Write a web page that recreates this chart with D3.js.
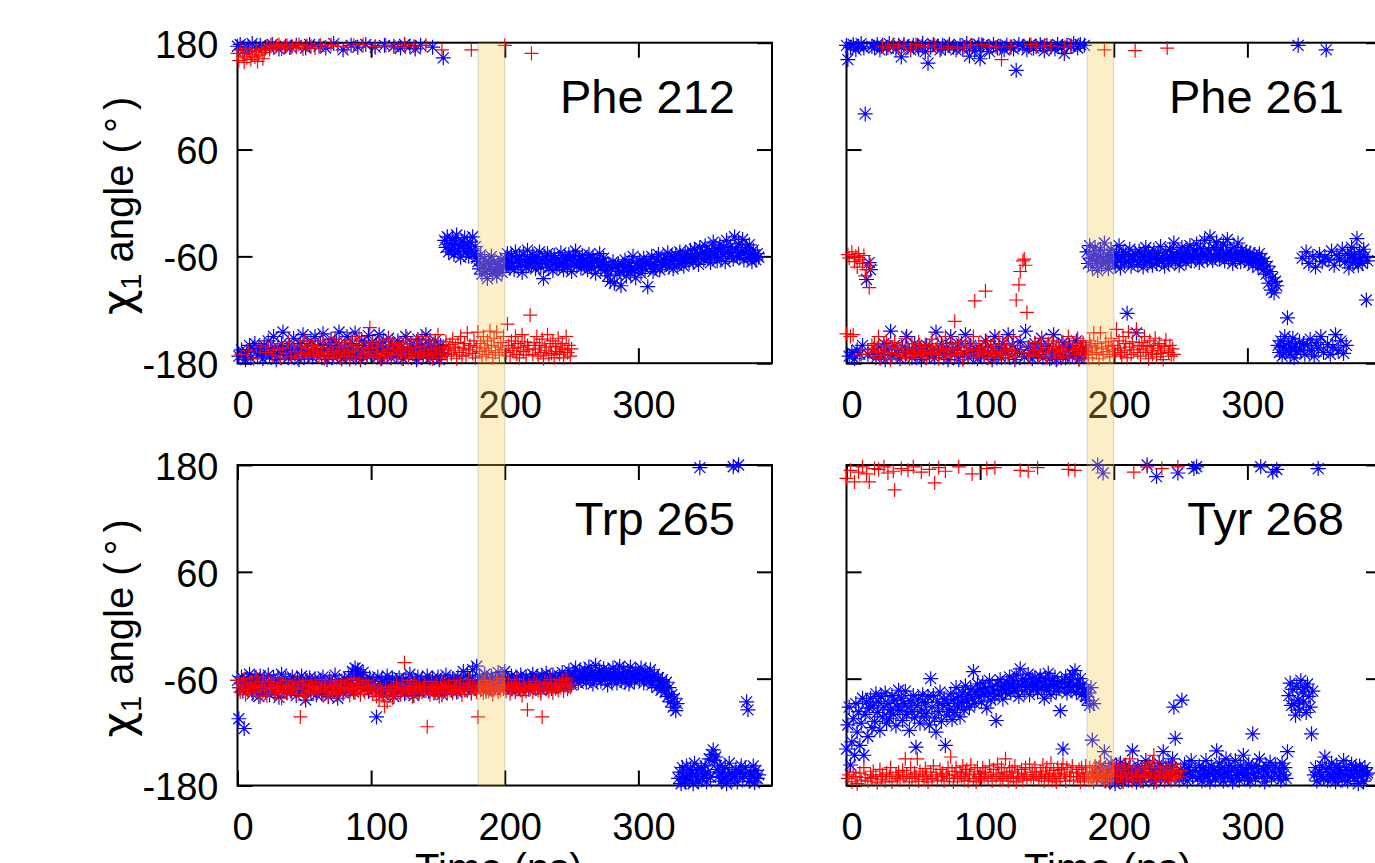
<!DOCTYPE html>
<html>
<meta charset="utf-8">
<!-- Load d3.js -->
<script src="https://d3js.org/d3.v7.min.js"></script>

<style>
    body { margin: 0; background: #fff; }
    text { font-family: "Liberation Sans", Arial, sans-serif; }
</style>

<div id="chart"></div>

<script>

// time between saved frames (ns), every series starts at t = 0
var dt = 1;

// chi1 angles (deg), blue = run 1 (star), red = run 2 (plus)
var phe212Blue = [
    176,-172,178,-165,-170,172,-176,-168,175,-160,-174,179,-166,-158,174,-171,-163,177,-169,-175,
    -160,175,-168,-155,-172,-164,178,-150,-170,-176,-162,173,-167,-158,-145,-171,176,-165,-174,-160,
    175,-168,-152,-170,177,-163,-176,-158,-166,-148,-172,174,-161,-169,178,-155,-173,-164,-150,-170,
    -166,176,-159,-171,-147,-165,174,-176,-160,-168,-153,-172,179,-163,-157,-170,-145,-167,-175,172,
    -162,-170,-150,-166,-174,177,-158,-168,-146,-171,175,-164,-176,-155,-169,-160,178,-172,-149,-165,
    -170,-157,-167,175,-161,-173,-148,-166,-175,-156,177,-163,-170,-152,-168,-174,-159,176,-165,-171,
    -155,-168,174,-162,-175,178,-150,-166,-171,176,-158,-169,-164,173,-176,-153,-167,177,-160,-172,
    -165,-148,-170,-158,-174,-162,175,-167,-155,-171,-164,-176,-160,-168,163,-42,-50,-38,-55,-46,
    -52,-40,-58,-45,-36,-54,-48,-61,-43,-51,-39,-56,-47,-60,-44,-53,-38,-57,-49,-62,
    -66,-74,-58,-80,-70,-63,-77,-85,-68,-72,-60,-79,-66,-75,-82,-69,-73,-64,-78,-71,
    -62,-70,-57,-66,-73,-59,-68,-75,-55,-64,-71,-60,-67,-78,-58,-65,-72,-53,-69,-63,
    -70,-58,-66,-74,-61,-68,-55,-72,-64,-85,-60,-69,-57,-73,-65,-62,-76,-59,-67,-71,
    -63,-70,-56,-68,-75,-61,-66,-72,-58,-64,-77,-60,-69,-54,-71,-65,-62,-73,-59,-67,
    -70,-63,-75,-58,-68,-72,-61,-66,-79,-64,-70,-57,-73,-67,-62,-76,-69,-82,-71,-88,
    -74,-66,-90,-72,-80,-69,-77,-93,-70,-75,-64,-82,-71,-67,-78,-73,-60,-76,-84,-68,
    -72,-65,-79,-70,-62,-74,-68,-94,-66,-71,-60,-77,-69,-73,-63,-58,-75,-67,-70,-64,
    -61,-69,-56,-72,-65,-60,-74,-63,-58,-70,-66,-55,-68,-62,-71,-57,-64,-59,-67,-53,
    -60,-66,-52,-63,-57,-69,-50,-61,-55,-64,-48,-58,-62,-53,-67,-56,-44,-60,-51,-65,
    -54,-47,-62,-58,-50,-66,-42,-55,-60,-49,-57,-63,-38,-52,-59,-46,-61,-55,-41,-64,
    -56,-50,-62,-47,-58,-66,-53,-60,-64,-57,-61];
var phe212Red = [
    168,160,172,-170,165,158,174,163,-166,170,161,167,-175,164,171,159,166,-162,173,162,
    169,-168,175,-160,172,177,-171,174,-165,176,-158,178,-174,173,-163,175,-169,177,-156,174,
    -172,176,-160,-167,175,-175,178,-162,-170,173,-155,-168,177,-164,-173,176,-159,-170,174,-166,
    -161,-172,177,-168,-155,-175,175,-164,-170,-158,178,-167,-173,-152,-169,176,-162,-174,-157,-166,
    -171,-160,175,-168,-176,-154,-165,177,-172,-159,-167,-150,-174,-163,178,-169,-156,-171,-164,-140,
    -167,-158,-173,176,-162,-170,-155,-175,-166,-160,-172,177,-168,-153,-164,-174,-159,-170,175,-163,
    -171,-157,-166,-175,-161,178,-169,-152,-173,-164,-158,-170,176,-167,-155,-174,-162,-168,-150,-172,
    -165,177,-160,-171,-154,-168,-175,-158,-163,-170,-148,-166,-174,172,-161,-169,-156,-172,-164,-159,
    -170,-153,-166,-162,-175,-157,-168,-150,-172,-163,-158,-171,-146,-165,-160,172,-169,-155,-174,-162,
    -145,-167,-158,-172,-150,-163,-170,-155,-166,-144,-160,-174,-152,-168,-145,-162,-171,-157,-165,-150,
    177,-168,-136,-160,-172,-155,-166,-163,-150,-170,-158,-174,-162,-148,-167,-156,-171,-160,-165,-126,
    168,-170,-157,-164,-150,-172,-160,-168,-153,-175,-162,-166,-148,-171,-158,-169,-155,-174,-161,-167,
    -152,-170,-163,-158,-174,-165,-150,-168,-160,-172,-164];

var phe261Blue = [
    177,161,-172,175,-168,178,-175,172,-165,176,-170,179,-160,174,100,-86,-170,-67,-75,176,
    -168,175,-174,178,-162,172,-170,177,-158,-176,174,-165,179,-144,-171,176,-160,173,-168,177,
    -175,164,-162,178,-170,-150,175,-166,172,-174,177,-158,-169,176,173,-163,-176,179,-167,170,
    -160,157,-172,175,-165,178,-174,-145,176,-168,172,-158,177,-171,174,-163,-176,178,-150,-166,
    175,-170,172,-162,-176,177,-158,174,-168,-148,179,-173,165,-160,176,-169,171,-164,-175,178,
    162,-166,177,-172,-155,175,-168,170,-161,-176,178,-150,-170,174,-163,176,-174,-158,172,-167,
    177,-148,-171,175,-160,173,-176,149,-165,178,-156,-169,176,-173,-144,172,-162,177,-168,-175,
    174,-158,176,-170,-164,178,-152,-174,171,-166,177,-161,-175,175,-169,-148,173,-176,178,-163,
    -171,175,-157,168,-174,177,-166,-160,176,-172,179,-168,-155,174,-175,178,-164,-170,177,-162,
    -55,-68,-48,-62,-72,-58,-50,-65,-76,-60,-53,-70,-63,-45,-67,-58,-74,-61,-52,-66,
    -59,-70,-56,-64,-48,-73,-61,-55,-67,-58,-124,-66,-52,-71,-60,-63,-57,-146,-69,-54,
    -65,-58,-72,-61,-50,-67,-56,-64,-60,-70,-53,-62,-68,-57,-63,-49,-66,-59,-71,-55,
    -61,-68,-52,-64,-58,-45,-66,-60,-55,-70,-62,-50,-63,-57,-67,-53,-61,-48,-65,-58,
    -54,-62,-46,-59,-67,-51,-63,-56,-42,-60,-64,-53,-38,-58,-65,-50,-61,-44,-57,-63,
    -52,-60,-47,-65,-56,-41,-62,-54,-59,-68,-50,-63,-57,-45,-61,-66,-53,-58,-64,-55,
    -60,-67,-56,-63,-70,-58,-65,-61,-72,-57,-68,-62,-75,-66,-80,-71,-90,-77,-98,-84,
    -101,-88,-93,-160,-168,-155,-172,-162,-150,-166,-129,-158,-170,-163,-152,-174,-161,-167,177,-156,
    -165,-62,-158,-170,-55,-160,-68,-153,-166,-60,-172,-72,-157,-163,-58,-150,-66,-168,-61,172,
    -159,-64,-170,-54,-162,-70,-148,-59,-166,-63,-155,-52,-169,-66,-160,-57,-73,-61,-50,-67,
    -58,-64,-40,-70,-55,-62,-68,-52,-60,-109,-65];
var phe261Red = [
    -147,-58,-62,-150,-55,-148,-66,-60,-72,-57,-64,-170,-68,-59,-82,-75,-165,-95,-70,-160,
    -168,-158,-172,-163,-150,-175,-166,176,-160,-171,-155,174,-168,-176,-162,178,-157,-170,-164,175,
    -173,-160,-167,177,-152,-170,-163,-175,174,-158,-168,-165,178,-172,-156,-162,176,-170,-166,-159,
    -174,175,-161,-168,-153,-170,177,-164,-158,-175,-166,173,-160,-171,-150,-167,176,-163,-172,-157,
    -165,-133,-170,174,-158,-168,-162,-176,175,-155,-166,-171,-160,177,-164,-150,-110,-169,-173,-158,
    -166,178,-162,-170,-99,-155,-174,176,-163,-168,-159,-172,175,-165,-152,-170,161,-167,-160,-174,
    -158,-171,-164,176,-166,-150,-173,-109,-160,-92,-77,-168,-65,-63,-70,-123,-172,-162,178,-166,
    -170,-157,175,-165,-172,-160,-152,-168,177,-163,-174,-158,-169,176,-155,-166,-171,-161,-175,-164,
    -168,-156,-172,175,-160,-166,-150,-174,177,-163,-158,-170,-165,-152,-176,-161,-168,-157,-171,-163,
    -166,-174,-155,-160,-170,-146,-162,-168,-158,-175,-146,-164,-170,172,-156,-167,-161,-173,-152,-165,
    -160,-170,-142,-163,-155,-168,-172,-150,-166,-158,-174,-145,-162,-170,-156,-165,171,-142,-168,-160,
    -172,-157,-164,-150,-168,-161,-175,-155,-166,-170,-160,-152,-173,-163,-158,-169,-166,-176,-161,-154,
    174,-168,-160,-172,-164,-170];

var trp265Blue = [
    -62,-105,-70,-58,-74,-116,-66,-60,-72,-55,-68,-77,-63,-59,-71,-65,-80,-57,-69,-74,
    -61,-73,-66,-56,-78,-64,-70,-59,-75,-67,-62,-81,-68,-55,-72,-65,-60,-76,-70,-63,
    -74,-58,-69,-66,-79,-61,-71,-64,-57,-73,-67,-84,-62,-70,-59,-75,-65,-72,-60,-78,
    -66,-70,-62,-77,-58,-73,-68,-64,-80,-61,-71,-67,-74,-56,-69,-82,-63,-72,-65,-76,
    -60,-70,-66,-58,-73,-64,-52,-75,-48,-55,-50,-62,-56,-68,-53,-71,-60,-65,-74,-59,
    -67,-72,-63,-70,-103,-58,-75,-66,-61,-78,-69,-64,-57,-73,-65,-71,-60,-80,-68,-62,
    -74,-59,-70,-66,-63,-77,-60,-72,-68,-55,-71,-64,-79,-62,-69,-58,-75,-66,-61,-73,
    -67,-70,-57,-74,-63,-68,-60,-76,-65,-71,-58,-69,-62,-78,-64,-72,-56,-70,-66,-61,
    -73,-60,-68,-65,-75,-58,-70,-62,-66,-52,-72,-64,-56,-69,-61,-74,-50,-67,-63,-46,
    -65,-58,-71,-62,-68,-55,-74,-60,-66,-70,-57,-64,-72,-61,-67,-53,-69,-63,-59,-71,
    -52,-66,-60,-70,-63,-57,-68,-62,-74,-59,-65,-71,-56,-67,-61,-69,-58,-64,-72,-60,
    -66,-55,-70,-62,-58,-68,-64,-73,-57,-61,-67,-54,-69,-63,-59,-71,-56,-65,-60,-68,
    -62,-57,-66,-53,-70,-60,-64,-58,-51,-63,-67,-55,-61,-48,-59,-65,-52,-62,-57,-60,
    -50,-64,-56,-47,-60,-53,-66,-58,-45,-62,-55,-51,-63,-57,-49,-61,-54,-67,-52,-58,
    -62,-48,-57,-53,-65,-59,-46,-61,-55,-50,-64,-58,-52,-66,-47,-60,-56,-63,-51,-57,
    -54,-61,-48,-58,-65,-52,-60,-56,-63,-50,-67,-58,-55,-62,-70,-59,-66,-73,-61,-68,
    -75,-64,-80,-70,-86,-78,-92,-82,-96,-88,-172,-165,-178,-160,-170,-176,-158,-168,-174,-162,
    -166,-178,-155,-170,-163,-175,177,-160,-172,-168,-158,-176,-165,-150,-171,-145,-140,-152,-148,-162,
    -170,-158,-175,-165,-172,-160,-178,-168,-155,-174,-166,178,-170,-162,-176,180,-165,-158,-172,-168,
    -160,-86,-95,-175,-166,-170,-158,-177,-163,-172,-168];
var trp265Red = [
    -62,-70,-75,-66,-72,-60,-78,-68,-73,-65,-71,-64,-76,-69,-58,-74,-67,-80,-70,-63,
    -72,-66,-79,-61,-74,-68,-70,-64,-77,-71,-59,-75,-67,-82,-69,-73,-62,-76,-70,-66,
    -74,-68,-71,-63,-78,-70,-65,-103,-72,-67,-80,-62,-75,-69,-73,-66,-71,-77,-64,-70,
    -76,-68,-72,-61,-79,-70,-66,-74,-81,-69,-63,-75,-71,-67,-78,-65,-73,-70,-62,-77,
    -68,-74,-64,-71,-79,-66,-72,-60,-76,-69,-73,-65,-78,-70,-67,-75,-62,-71,-68,-74,
    -70,-77,-66,-73,-80,-68,-84,-72,-75,-78,-91,-70,-86,-74,-79,-69,-82,-72,-76,-67,
    -73,-70,-78,-65,-72,-42,-76,-68,-74,-62,-71,-80,-66,-73,-69,-77,-64,-72,-75,-70,
    -67,-74,-114,-70,-78,-63,-72,-69,-76,-66,-73,-80,-68,-71,-75,-64,-70,-77,-67,-73,
    -69,-76,-62,-72,-68,-75,-71,-65,-78,-70,-73,-66,-74,-61,-70,-77,-68,-72,-64,-75,
    -103,-70,-73,-67,-76,-62,-71,-69,-74,-65,-72,-78,-66,-70,-63,-75,-68,-73,-60,-71,
    -67,-74,-70,-64,-77,-69,-72,-66,-75,-61,-71,-68,-73,-79,-65,-70,-74,-95,-67,-72,
    -69,-75,-63,-71,-66,-73,-68,-77,-103,-70,-64,-72,-67,-74,-61,-70,-76,-66,-71,-68,
    -73,-65,-70,-62,-74,-68,-60,-72,-66,-70,-67];

var tyr268Blue = [
    -139,-112,-92,-157,-131,-105,-146,-88,-120,-97,-135,-110,-82,-146,-100,-86,-125,-93,-82,-115,
    -90,-108,-77,-98,-86,-118,-80,-103,-92,-76,-110,-88,-105,-95,-79,-100,-84,-113,-91,-73,
    -96,-82,-107,-88,-74,-100,-92,-118,-85,-97,-79,-104,-137,-90,-83,-110,-95,-78,-102,-87,
    -99,-80,-112,-60,-92,-79,-104,-120,-86,-97,-75,-108,-90,-83,-135,-101,-88,-95,-77,-106,
    -84,-98,-70,-91,-80,-103,-87,-76,-95,-68,-85,-78,-92,-72,-82,-52,-88,-74,-66,-80,
    -72,-86,-65,-78,-70,-93,-76,-62,-84,-69,-74,-80,-107,-66,-77,-61,-72,-83,-68,-75,
    -64,-71,-58,-76,-66,-62,-73,-56,-69,-80,-49,-67,-60,-74,-63,-70,-55,-78,-65,-61,
    -72,-59,-68,-75,-63,-57,-70,-66,-82,-60,-73,-54,-67,-78,-62,-69,-58,-74,-65,-71,
    -96,-63,-139,-70,-58,-76,-66,-61,-73,-55,-68,-51,-75,-64,-70,-60,-78,-67,-72,-80,
    -84,-76,-90,-70,-129,-88,-165,-172,180,-160,-158,-170,171,-142,-175,-168,-162,-176,-155,-170,
    -165,-178,-160,-172,-168,-155,-175,-162,-170,-158,-166,-174,-160,-168,-141,-172,-163,-176,-158,-168,
    -170,-160,-175,-165,-152,180,-168,-158,-172,-162,-176,-166,167,-160,-155,-170,-164,-142,-174,-160,
    -168,-158,-172,-160,-150,-92,-127,-166,171,-174,-162,-84,-170,-156,-168,-175,-160,-165,-152,-170,
    176,-163,178,-172,-158,-168,-175,-160,-166,-152,-170,-164,-176,-158,-168,-162,-173,-141,-166,-155,
    -170,-160,-175,-165,-150,-168,-158,-172,-163,-176,-160,-152,-169,-165,-174,-158,-166,-146,-171,-162,
    -168,-156,-175,-160,-122,-166,-172,-158,-164,-150,178,-170,-162,-176,-158,-168,-160,-154,-172,172,
    -165,-158,175,-170,-162,-174,-155,-168,-160,-172,-142,-79,-65,-90,-72,-88,-101,-68,-84,-95,
    -62,-75,-86,-70,-98,-66,-80,-92,-122,-74,-168,-160,-175,176,-165,-170,-158,-172,-148,-162,
    -174,-160,-168,-155,-172,-165,-176,-158,-170,-162,-166,-174,-152,-168,-160,-175,-163,-170,-156,-168,
    -172,-160,-165,-178,-158,-170,-163,-175,-160,-168,-166];
var tyr268Red = [
    165,-172,-168,174,-176,-165,161,-170,-178,172,-166,-174,178,-160,-171,170,-175,161,-168,-172,
    -164,176,-170,-177,175,-162,-173,-168,178,-175,-166,171,-170,-160,-176,173,152,-168,-172,-165,
    -174,176,-163,-170,-150,-168,174,-176,-160,-172,178,-166,-170,-150,-175,-164,172,-168,-173,-161,
    -170,-176,175,-165,-172,-158,160,-168,-174,177,-162,-170,-166,-175,173,-168,-160,-172,-148,-164,
    -176,-168,-160,-172,178,-165,-170,-158,-174,-166,-162,-175,-168,-157,170,-172,-164,-176,-160,-170,
    -167,-174,-160,-170,-165,176,-172,-158,-168,-175,-162,177,-170,-156,-166,-174,-160,-172,-165,-150,
    -168,-175,-160,-170,-164,-172,-158,-176,-166,-170,174,-162,-174,-168,-160,-172,173,-156,-170,-165,
    -174,-160,-168,177,-172,-164,-170,-157,-175,-166,-160,-172,-168,-155,-174,-163,-170,-176,-160,-166,
    -172,-162,-156,-168,-175,-160,175,-170,-165,-158,-174,174,-166,-170,-162,-176,-160,-168,-172,-158,
    -166,-174,-160,-170,-164,-176,-158,-168,-172,-162,-155,-170,-166,-174,-160,-168,-175,-163,-170,-158,
    -168,-160,-174,-165,-156,-170,-162,-176,-158,-168,-172,-160,-150,-166,-174,172,-164,-170,-158,-168,
    -175,-162,-170,-160,-168,178,-158,-172,-165,-154,-146,-168,-176,-160,-170,-164,176,-158,-172,-166,
    -160,-170,-162,-175,-168,-156,-172,-165,178,-170,-163];

var panels = [
    {title: "Phe 212", blue: phe212Blue, red: phe212Red, col: 0, row: 0},
    {title: "Phe 261", blue: phe261Blue, red: phe261Red, col: 1, row: 0},
    {title: "Trp 265", blue: trp265Blue, red: trp265Red, col: 0, row: 1},
    {title: "Tyr 268", blue: tyr268Blue, red: tyr268Red, col: 1, row: 1}
];

var xTicks = [0, 100, 200, 300];
var yTicks = [-180, -60, 60, 180];
var band = [180, 200];

// layout
var left = 237.5, top0 = 42.7,
    width = 534.5, height = 320.5,
    colStep = 609, rowStep = 422.3;

var svg = d3.select("#chart")
    .append("svg")
        .attr("width", 1375)
        .attr("height", 863);

svg.append("rect").attr("width", 1375).attr("height", 863).attr("fill", "#fff");

var x = d3.scaleLinear().domain([0, 400]).range([0, width]);
var y = d3.scaleLinear().domain([-180, 180]).range([height, 0]);

var plusPath = "M-7,0H7M0,-7V7";
var starPath = "M-7.5,0H7.5M0,-7.5V7.5M-5.5,-5.5L5.5,5.5M-5.5,5.5L5.5,-5.5";

// plain hyphen minus like the original
var fmt = function(d) { return String(d); };

function styleAxis(g, size) {
    g.select(".domain").remove();
    g.attr("font-size", size).attr("font-family", "Liberation Sans, Arial, sans-serif");
    g.selectAll("line").attr("stroke", "#000").attr("stroke-width", 2);
    g.selectAll("text").attr("fill", "#000");
}

//------------//
//   Panels   //
//------------//
panels.forEach(function(p) {
    var g = svg.append("g")
        .attr("transform", "translate(" + (left + p.col * colStep) + "," + (top0 + p.row * rowStep) + ")");

    // bottom axis with labels
    g.append("g")
        .attr("transform", "translate(0," + height + ")")
        .call(d3.axisBottom(x).tickValues(xTicks).tickFormat(fmt).tickSize(-15).tickSizeOuter(0).tickPadding(28))
        .call(styleAxis, 38)
        .selectAll("text").attr("dx", 5);

    // top axis, ticks only
    g.append("g")
        .call(d3.axisTop(x).tickValues(xTicks).tickSize(-15).tickSizeOuter(0).tickFormat(""))
        .call(styleAxis, 38);

    // left axis, labels only on the left column
    var yl = d3.axisLeft(y).tickValues(yTicks).tickFormat(p.col > 0 ? "" : fmt)
        .tickSize(-15).tickSizeOuter(0).tickPadding(19);
    g.append("g")
        .call(yl)
        .call(styleAxis, 38)
        .selectAll("text").attr("dy", "0.38em");

    // right axis
    g.append("g")
        .attr("transform", "translate(" + width + ",0)")
        .call(d3.axisRight(y).tickValues(yTicks).tickSize(-15).tickSizeOuter(0).tickFormat(""))
        .call(styleAxis, 38);

    // frame
    g.append("rect")
        .attr("width", width)
        .attr("height", height)
        .attr("fill", "none")
        .attr("stroke", "#000")
        .attr("stroke-width", 2);

    // blue stars first, red plus on top
    g.append("g")
        .selectAll("path")
        .data(p.blue.map(function(a, i) { return {t: i * dt, a: a}; }))
        .enter()
        .append("path")
            .attr("d", starPath)
            .attr("transform", function(d) { return "translate(" + x(d.t) + "," + y(d.a) + ")"; })
            .attr("fill", "none")
            .attr("stroke", "#0000ff")
            .attr("stroke-width", 1.2);

    g.append("g")
        .selectAll("path")
        .data(p.red.map(function(a, i) { return {t: i * dt, a: a}; }))
        .enter()
        .append("path")
            .attr("d", plusPath)
            .attr("transform", function(d) { return "translate(" + x(d.t) + "," + y(d.a) + ")"; })
            .attr("fill", "none")
            .attr("stroke", "#ff0000")
            .attr("stroke-width", 1.2);

    // residue name
    g.append("text")
        .attr("x", width - 37)
        .attr("y", 70)
        .attr("text-anchor", "end")
        .attr("font-size", 47)
        .text(p.title);

    // axis titles
    if (p.row == 1) {
        g.append("text")
            .attr("x", width / 2 - 6)
            .attr("y", 417)
            .attr("text-anchor", "middle")
            .attr("font-size", 40)
            .text("Time (ns)");
    }
    if (p.col == 0) {
        var yt = g.append("text")
            .attr("transform", "translate(-105," + (height / 2 + 3) + ") rotate(-90)")
            .attr("text-anchor", "middle")
            .attr("font-size", 40);
        yt.append("tspan").attr("font-family", "DejaVu Sans").attr("font-size", 44).text("\u03c7");
        yt.append("tspan").attr("dy", 8).attr("font-size", 29).text("1");
        yt.append("tspan").attr("dy", -8).text(" angle (");
        yt.append("tspan").attr("dx", 7).text("\u00b0");
        yt.append("tspan").attr("dx", 7).text(")");
    }
});

//-----------------------//
//   Highlighted window  //
//-----------------------//
[0, 1].forEach(function(c) {
    var bx = left + c * colStep;
    svg.append("rect")
        .attr("x", bx + x(band[0]))
        .attr("y", top0)
        .attr("width", x(band[1]) - x(band[0]))
        .attr("height", rowStep + height)
        .attr("fill", "rgba(245,200,65,0.3)");
    band.forEach(function(b) {
        svg.append("line")
            .attr("x1", bx + x(b)).attr("x2", bx + x(b))
            .attr("y1", top0).attr("y2", top0 + rowStep + height)
            .attr("stroke", "#999")
            .attr("stroke-opacity", 0.4)
            .attr("stroke-width", 1);
    });
});

</script>
</html>
